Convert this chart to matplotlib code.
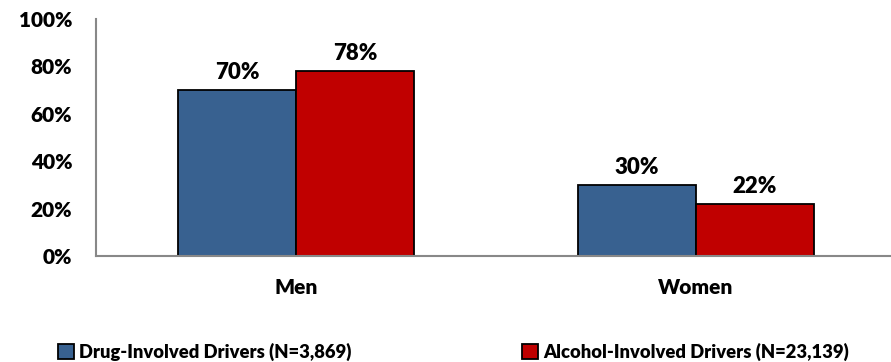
import matplotlib
matplotlib.use("Agg")
import matplotlib.pyplot as plt
import numpy as np

categories = ["Men", "Women"]
series_names = ["Drug-Involved Drivers (N=3,869)", "Alcohol-Involved Drivers (N=23,139)"]
drug_values = [70, 30]
alcohol_values = [78, 22]
ytick_values = [0, 20, 40, 60, 80, 100]
ytick_labels = ["0%", "20%", "40%", "60%", "80%", "100%"]

plt.rcParams['font.family'] = ['Lato', 'DejaVu Sans']
WEIGHT = "heavy"

fig = plt.figure(figsize=(8.91, 3.62), dpi=100)
ax = fig.add_axes([96/891, 1-256/362, 800/891, 237/362])

x = np.arange(len(categories))
w = 0.295
colors = ["#386190", "#C00000"]
b1 = ax.bar(x - w/2, drug_values, w, color=colors[0], edgecolor="black", linewidth=1.3, label=series_names[0])
b2 = ax.bar(x + w/2, alcohol_values, w, color=colors[1], edgecolor="black", linewidth=1.3, label=series_names[1])

for bars, vals in ((b1, drug_values), (b2, alcohol_values)):
    for r, v in zip(bars, vals):
        ax.annotate(f"{v}%", (r.get_x() + r.get_width()/2, v), xytext=(0, 5),
                    textcoords="offset points", ha="center", va="bottom",
                    fontsize=16, fontweight=WEIGHT)

ax.set_xlim(-0.5, 1.5)
ax.set_ylim(0, 100)
ax.set_yticks(ytick_values)
ax.set_yticklabels(ytick_labels, fontsize=15, fontweight=WEIGHT)
ax.set_xticks(x)
ax.set_xticklabels(categories, fontsize=15, fontweight=WEIGHT)
ax.tick_params(axis="both", length=0)
ax.tick_params(axis="y", pad=17)
ax.tick_params(axis="x", pad=16)
for s in ("top", "right"):
    ax.spines[s].set_visible(False)
for s in ("left", "bottom"):
    ax.spines[s].set_color("#888888")
    ax.spines[s].set_linewidth(1.5)

leg = fig.legend(handles=[b1, b2], loc="center left", bbox_to_anchor=(58/891, 1-352/362),
                 ncol=2, frameon=False, prop={"size": 13.2, "weight": WEIGHT},
                 handlelength=0.85, handleheight=0.85,
                 handletextpad=0.3, columnspacing=9.3, borderaxespad=0, borderpad=0)

fig.savefig("out.png", dpi=100)
